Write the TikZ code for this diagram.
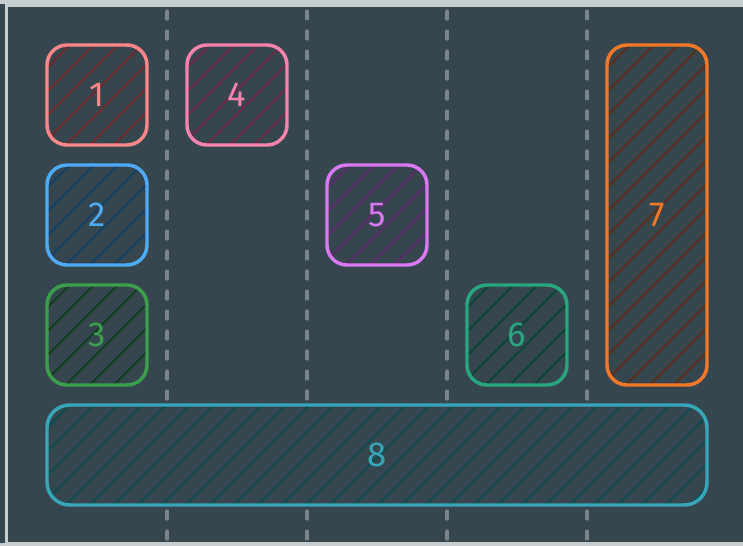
\documentclass[tikz,border=0pt]{standalone}
\usepackage{fontspec}
\setmainfont{Fira Sans}
\usetikzlibrary{positioning,calc}
\definecolor{GridBg}{RGB}{54,70,79}
\definecolor{GridFrame}{RGB}{200,205,208}
\definecolor{GridDash}{RGB}{124,132,139}
\definecolor{CRed}{RGB}{255,135,135}
\definecolor{CRedDark}{RGB}{112,40,46}
\definecolor{CPink}{RGB}{247,131,172}
\definecolor{CPinkDark}{RGB}{108,42,72}
\definecolor{CBlue}{RGB}{77,171,247}
\definecolor{CBlueDark}{RGB}{20,62,102}
\definecolor{CViolet}{RGB}{218,119,242}
\definecolor{CVioletDark}{RGB}{92,42,108}
\definecolor{CGreen}{RGB}{58,160,76}
\definecolor{CGreenDark}{RGB}{18,62,32}
\definecolor{CTeal}{RGB}{40,166,125}
\definecolor{CTealDark}{RGB}{10,70,50}
\definecolor{COrange}{RGB}{244,120,40}
\definecolor{COrangeDark}{RGB}{92,48,20}
\definecolor{CCyan}{RGB}{56,166,185}
\definecolor{CCyanDark}{RGB}{10,78,86}

\begin{document}
\begin{tikzpicture}[
  x=0.75pt,y=-0.75pt,
  node distance=15pt and 30pt,
  cell/.style={draw=#1,fill=GridBg,line width=2.6pt,rounded corners=15pt,
               inner sep=0pt,outer sep=0pt,minimum width=75pt,minimum height=75pt,
               text=#1,font=\fontsize{26}{26}\selectfont,
               path picture={\foreach \k in {0,...,46}
                 \draw[#1Dark,line width=1.5pt]
                   ($(path picture bounding box.south west)+(\k*18pt-260pt,-4pt)$) -- ++(272pt,272pt);}},
  gridline/.style={GridDash,line width=2.4pt,line cap=round,dash pattern=on 6pt off 9pt}
]
\useasboundingbox (0,0) rectangle (743,546);
% background and frame
\fill[GridBg] (0,0) rectangle (743,546);
\fill[GridFrame] (0,0) rectangle (743,4);
\fill[GridFrame] (0,543) rectangle (743,546);
\draw[GridFrame,line width=2.4pt] (6.5,5.5) rectangle (760,543.5);
\foreach \gx in {167,307,447,587}
  \draw[gridline] (\gx,11) -- (\gx,546);

% cells
\node[cell=CRed] (b1) at (97,95) {1};
\node[cell=CBlue,below=of b1] (b2) {2};
\node[cell=CGreen,below=of b2] (b3) {3};
\node[cell=CPink,right=of b1] (b4) {4};
\node[cell=CViolet] (b5) at (377,215) {5};
\node[cell=CTeal] (b6) at (517,335) {6};
\node[cell=COrange,minimum height=255pt] (b7) at (657,215) {7};
\node[cell=CCyan,minimum width=495pt,rounded corners=17pt] (b8) at (377,455) {8};
\end{tikzpicture}
\end{document}
